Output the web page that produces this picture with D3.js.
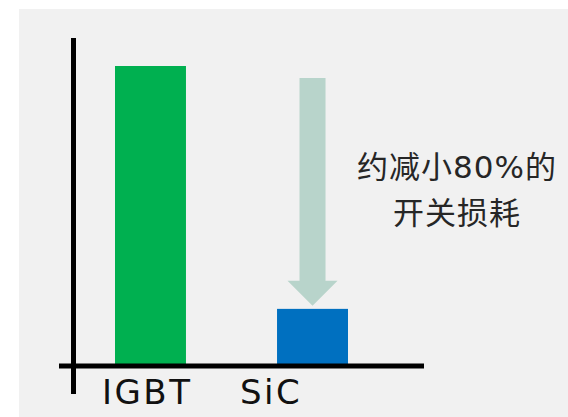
<!DOCTYPE html>
<html>
	<head>
		<meta charset="utf-8">
		<style type="text/css">
			body { margin: 0; background: #fff; }
			svg  { display: block; }
		</style>
		<title>IGBT vs SiC</title>
	</head>
	<body>
		<script src="https://cdn.jsdelivr.net/npm/d3@7/dist/d3.min.js"></script>
		<script>

// data ///////////////////////////////////////////////////////////////////

var devices = ['IGBT', 'SiC'];
var losses  = [100, 18.5];            // relative switching loss
var colors  = ['#00b050', '#0070c0'];
var note    = ['约减小80%的', '开关损耗'];
var arrowTop = 96;                    // arrow start, same units as losses

// layout /////////////////////////////////////////////////////////////////

var W = 568, H = 417;
var labelDx = [-13, -37];             // labels sit left of bar centres

var svg = d3.select('body').append('svg')
	.attr('width', W)
	.attr('height', H);

svg.append('rect')
	.attr('x', 19).attr('y', 9)
	.attr('width', W - 19).attr('height', H - 9)
	.attr('fill', '#f1f1f1');

var x = d3.scaleBand()
	.domain(devices)
	.range([115, 348])
	.paddingInner(0.562)
	.paddingOuter(0);

var y = d3.scaleLinear()
	.domain([0, 100])
	.range([364, 66]);

var font = '"DejaVu Sans", "Noto Sans CJK SC", sans-serif';

// bars ///////////////////////////////////////////////////////////////////

svg.append('g')
	.selectAll('rect')
	.data(devices)
	.join('rect')
		.attr('x', d => x(d))
		.attr('width', x.bandwidth())
		.attr('y', (d, i) => y(losses[i]))
		.attr('height', (d, i) => y(0) - y(losses[i]))
		.attr('fill', (d, i) => colors[i]);

// axes: two thick black strokes, no ticks

svg.append('line')
	.attr('x1', 73.5).attr('x2', 73.5)
	.attr('y1', 38).attr('y2', 394)
	.attr('stroke', '#000').attr('stroke-width', 5);

svg.append('line')
	.attr('x1', 59).attr('x2', 424)
	.attr('y1', y(0) + 2).attr('y2', y(0) + 2)
	.attr('stroke', '#000').attr('stroke-width', 5);

svg.append('g')
	.selectAll('text')
	.data(devices)
	.join('text')
		.attr('x', (d, i) => x(d) + labelDx[i])
		.attr('y', 404)
		.attr('font-family', font)
		.attr('font-size', 34)
		.attr('letter-spacing', 2.5)
		.attr('fill', '#111')
		.text(d => d);

// reduction arrow ////////////////////////////////////////////////////////

var cx = x('SiC') + x.bandwidth() / 2;
var y0 = y(arrowTop), y1 = y(losses[1]) - 3;
var shaft = 13, head = 25, headH = 25;

svg.append('path')
	.attr('d', d3.line()([
		[cx - shaft, y0], [cx + shaft, y0],
		[cx + shaft, y1 - headH], [cx + head, y1 - headH],
		[cx, y1],
		[cx - head, y1 - headH], [cx - shaft, y1 - headH],
	]) + 'Z')
	.attr('fill', '#b8d4cb');

svg.append('text')
	.attr('font-family', font)
	.attr('font-size', 31)
	.attr('letter-spacing', 1)
	.attr('fill', '#262626')
	.attr('text-anchor', 'middle')
	.selectAll('tspan')
	.data(note)
	.join('tspan')
		.attr('x', 457)
		.attr('y', (d, i) => 178 + i * 46)
		.text(d => d);

		</script>
	</body>
</html>
